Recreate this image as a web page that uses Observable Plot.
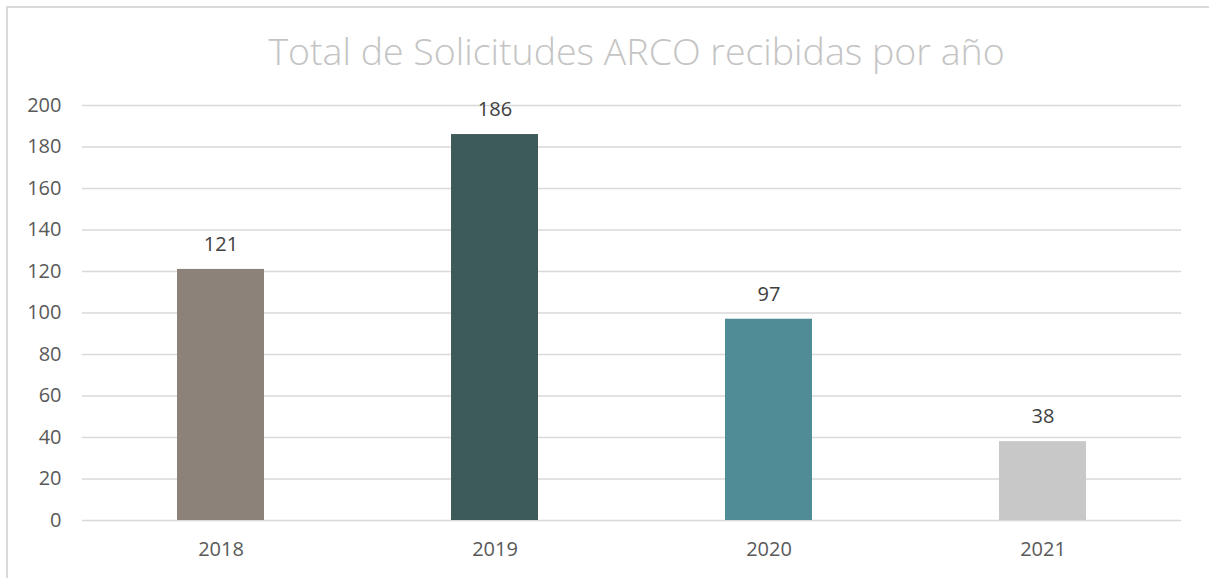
<!DOCTYPE html>
<html>
<head>
<meta charset="utf-8">
<script src="https://cdn.jsdelivr.net/npm/d3@7"></script>
<script src="https://cdn.jsdelivr.net/npm/@observablehq/plot@0.6"></script>
<style>
  html, body { margin: 0; padding: 0; background: #fff; }
  #wrap { position: relative; width: 1209px; height: 578px; overflow: hidden; font-family: "Open Sans", sans-serif; }
  #frame { position: absolute; left: 6px; top: 6px; width: 1300px; height: 700px; border-left: 2px solid #d9d9d9; border-top: 2px solid #d9d9d9; }
  #title { position: absolute; left: 0; width: 1273px; top: 25px; text-align: center; font-size: 37.5px; color: #c4c4c4; font-family: "Open Sans", sans-serif; font-weight: 300; letter-spacing: 0px; white-space: nowrap; }
  #chart { position: absolute; left: 0; top: 0; }
</style>
</head>
<body>
<div id="wrap">
  <div id="frame"></div>
  <div id="title">Total de Solicitudes ARCO recibidas por año</div>
  <div id="chart"></div>
</div>
<script>
const years = ["2018", "2019", "2020", "2021"];
const counts = [121, 186, 97, 38];
const barColors = ["#8c8279", "#3d5b59", "#4f8c95", "#c8c8c8"];
const yTicks = [0, 20, 40, 60, 80, 100, 120, 140, 160, 180, 200];

const data = years.map((y, i) => ({year: y, value: counts[i], color: barColors[i]}));

const chart = Plot.plot({
  width: 1209,
  height: 578,
  marginLeft: 82,
  marginRight: 28,
  marginTop: 105,
  marginBottom: 58,
  style: {fontFamily: "'Open Sans', sans-serif", fontSize: "20px", color: "#595959", background: "transparent"},
  x: {domain: years, paddingInner: 0.683, paddingOuter: 0.3415, label: null},
  y: {domain: [0, 200], label: null},
  marks: [
    Plot.ruleY(yTicks, {stroke: "#d9d9d9", strokeWidth: 1.5}),
    Plot.barY(data, {x: "year", y: "value", fill: "color"}),
    Plot.text(data, {x: "year", y: "value", text: d => String(d.value), dy: -25, fill: "#404040", fontSize: 20}),
    Plot.axisY({ticks: yTicks, tickSize: 0, tickPadding: 21, fill: "#595959", fontSize: 20, label: null}),
    Plot.axisX({tickSize: 0, tickPadding: 21, fill: "#595959", fontSize: 20, label: null})
  ]
});
document.getElementById("chart").appendChild(chart);
</script>
</body>
</html>
